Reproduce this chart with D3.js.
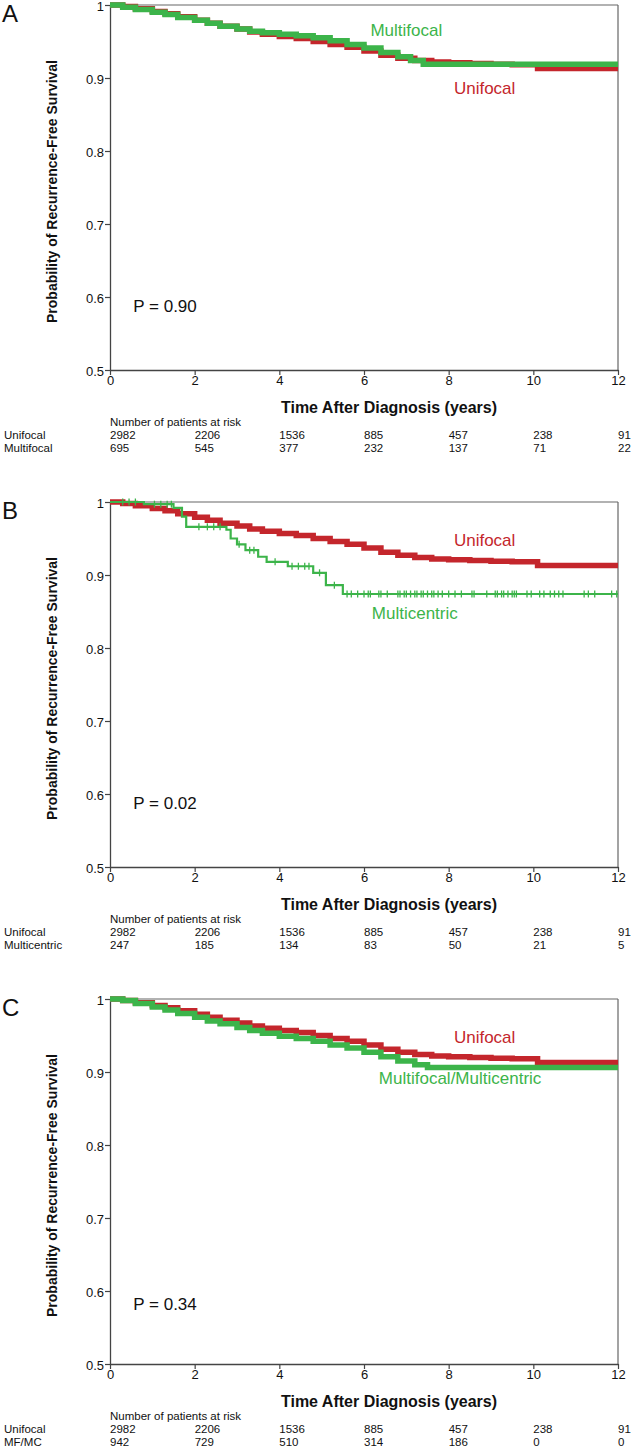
<!DOCTYPE html>
<html><head><meta charset="utf-8">
<script src="https://cdn.jsdelivr.net/npm/d3@7"></script>
<style>
html,body{margin:0;padding:0;background:#fff;}
svg{display:block;}
text{font-family:"Liberation Sans",Arial,sans-serif;}
</style></head>
<body>
<svg id="chart" width="636" height="1451"></svg>
<script>
// ---------------- DATA ----------------
const xTicks = [0, 2, 4, 6, 8, 10, 12];
const yTicks = [0.5, 0.6, 0.7, 0.8, 0.9, 1];
const yTickLabels = ["0.5", "0.6", "0.7", "0.8", "0.9", "1"];

// Unifocal (same group in every panel)
const unifocalTime = [0, 0.3, 0.6, 1.0, 1.3, 1.6, 2.0, 2.3, 2.6, 3.0, 3.3, 3.6, 4.0, 4.4, 4.8, 5.2, 5.6, 6.0, 6.4, 6.8, 7.2, 7.6, 8.0, 8.5, 9.0, 9.5, 10.1, 12];
const unifocalSurv = [1.0, 0.998, 0.995, 0.991, 0.988, 0.984, 0.979, 0.975, 0.971, 0.967, 0.963, 0.960, 0.957, 0.954, 0.950, 0.946, 0.942, 0.937, 0.931, 0.927, 0.924, 0.922, 0.921, 0.920, 0.919, 0.918, 0.913, 0.913];

// Panel A: Multifocal
const multifocalTime = [0, 0.3, 0.6, 1.0, 1.3, 1.6, 2.0, 2.3, 2.6, 3.0, 3.3, 3.6, 4.0, 4.4, 4.8, 5.2, 5.6, 6.0, 6.4, 6.8, 7.1, 7.4, 12];
const multifocalSurv = [1.0, 0.997, 0.994, 0.990, 0.987, 0.983, 0.979, 0.975, 0.971, 0.967, 0.964, 0.962, 0.960, 0.958, 0.955, 0.951, 0.946, 0.941, 0.935, 0.929, 0.924, 0.919, 0.919];

// Panel B: Multicentric
const multicentricTime = [0, 0.8, 1.5, 1.7, 1.8, 2.75, 2.85, 3.0, 3.2, 3.5, 3.7, 4.2, 4.8, 5.1, 5.5, 12];
const multicentricSurv = [1.0, 0.997, 0.992, 0.980, 0.966, 0.962, 0.950, 0.942, 0.934, 0.925, 0.918, 0.912, 0.903, 0.886, 0.874, 0.874];
const multicentricCensor = [0.3, 0.45, 0.6, 1.05, 1.2, 1.35, 1.45, 2.1, 2.3, 2.45, 2.6, 3.05, 3.3, 3.4, 3.9, 4.3, 4.45, 4.6, 4.7, 4.95, 5.3,
  5.6, 5.7, 5.85, 6.0, 6.1, 6.15, 6.35, 6.4, 6.55, 6.8, 6.85, 6.95, 7.0, 7.1, 7.2, 7.25, 7.35, 7.4, 7.5, 7.6, 7.65, 7.75, 7.85,
  8.0, 8.15, 8.3, 8.55, 8.6, 8.9, 9.1, 9.15, 9.25, 9.3, 9.4, 9.5, 9.55, 9.6, 9.85, 9.95, 10.15, 10.25, 10.4, 10.5, 10.6, 10.7,
  11.2, 11.3, 11.45, 11.85, 11.97];

// Panel C: Multifocal/Multicentric
const mfmcTime = [0, 0.3, 0.6, 1.0, 1.3, 1.6, 2.0, 2.3, 2.6, 3.0, 3.3, 3.6, 4.0, 4.4, 4.8, 5.2, 5.6, 6.0, 6.4, 6.8, 7.2, 7.5, 12];
const mfmcSurv = [1.0, 0.998, 0.994, 0.989, 0.985, 0.980, 0.975, 0.970, 0.966, 0.961, 0.957, 0.953, 0.949, 0.946, 0.942, 0.937, 0.933, 0.927, 0.921, 0.915, 0.910, 0.906, 0.906];

// Numbers at risk
const riskUnifocal = [2982, 2206, 1536, 885, 457, 238, 91];
const riskMultifocal = [695, 545, 377, 232, 137, 71, 22];
const riskMulticentric = [247, 185, 134, 83, 50, 21, 5];
const riskMFMC = [942, 729, 510, 314, 186, 0, 0];

const panelLetters = ["A", "B", "C"];
const pValues = ["P = 0.90", "P = 0.02", "P = 0.34"];
const groupNames = [["Unifocal", "Multifocal"], ["Unifocal", "Multicentric"], ["Unifocal", "MF/MC"]];
const curveLabels = [["Unifocal", "Multifocal"], ["Unifocal", "Multicentric"], ["Unifocal", "Multifocal/Multicentric"]];

// ---------------- DRAW ----------------
const RED = "#c4262c", GREEN = "#3cb44a";
const svg = d3.select("#chart");

const panels = [
  {top: 5, t2: multifocalTime, s2: multifocalSurv, thin2: false, censor2: [], r2: riskMultifocal,
   lab1: [8.85, 0.886], lab2: [7.0, 0.966], p: [0.55, 0.588]},
  {top: 502, t2: multicentricTime, s2: multicentricSurv, thin2: true, censor2: multicentricCensor, r2: riskMulticentric,
   lab1: [8.85, 0.948], lab2: [7.2, 0.848], p: [0.55, 0.588]},
  {top: 999, t2: mfmcTime, s2: mfmcSurv, thin2: false, censor2: [], r2: riskMFMC,
   lab1: [8.85, 0.948], lab2: [8.27, 0.892], p: [0.55, 0.582]}
];

function survAt(times, surv, t) {
  let v = surv[0];
  for (let i = 0; i < times.length; i++) { if (times[i] <= t) v = surv[i]; }
  return v;
}

panels.forEach((P, i) => {
  const left = 110, right = 618, top = P.top, bottom = P.top + 365;
  const x = d3.scaleLinear().domain([0, 12]).range([left, right]);
  const y = d3.scaleLinear().domain([0.5, 1]).range([bottom, top]);
  const g = svg.append("g");

  // frame (top and right)
  g.append("line").attr("x1", left).attr("x2", right).attr("y1", top).attr("y2", top).attr("stroke", "#666").attr("stroke-width", 1.2);
  g.append("line").attr("x1", right).attr("x2", right).attr("y1", top).attr("y2", bottom).attr("stroke", "#666").attr("stroke-width", 1.2);

  // axes
  const xAxis = d3.axisBottom(x).tickValues(xTicks).tickSize(5).tickSizeOuter(0).tickFormat(d3.format("d"));
  const gx = g.append("g").attr("transform", `translate(0,${bottom})`).call(xAxis);
  const yAxis = d3.axisLeft(y).tickValues(yTicks).tickSize(5).tickSizeOuter(0).tickFormat((d, k) => yTickLabels[k]);
  const gy = g.append("g").attr("transform", `translate(${left},0)`).call(yAxis);
  [gx, gy].forEach(a => {
    a.select(".domain").attr("stroke", "#444").attr("stroke-width", 1.3);
    a.selectAll(".tick line").attr("stroke", "#444").attr("stroke-width", 1.2);
    a.selectAll(".tick text").attr("fill", "#111").style("font-size", "13px").style("font-family", "'Liberation Sans',Arial,sans-serif");
  });
  gx.selectAll(".tick text").attr("dy", "0.71em").attr("y", 6);
  gy.selectAll(".tick text").attr("x", -6).attr("dy", "0.45em");

  // axis titles
  g.append("text").attr("x", 389).attr("y", bottom + 43).attr("text-anchor", "middle")
    .style("font-size", "16px").style("font-weight", "bold").attr("fill", "#111").text("Time After Diagnosis (years)");
  g.append("text").attr("transform", `translate(57,${(top + bottom) / 2 + 4}) rotate(-90)`).attr("text-anchor", "middle")
    .style("font-size", "14px").style("font-weight", "bold").attr("fill", "#111").text("Probability of Recurrence-Free Survival");

  // panel letter
  g.append("text").attr("x", 2).attr("y", top + 17).style("font-size", "24px").attr("fill", "#111").text(panelLetters[i]);

  // curves
  const line = d3.line().x(d => x(d[0])).y(d => y(d[1])).curve(d3.curveStepAfter);
  const d1 = unifocalTime.map((t, k) => [t, unifocalSurv[k]]);
  const d2 = P.t2.map((t, k) => [t, P.s2[k]]);
  g.append("path").attr("d", line(d1)).attr("fill", "none").attr("stroke", RED).attr("stroke-width", 5.5);
  g.append("path").attr("d", line(d2)).attr("fill", "none").attr("stroke", GREEN).attr("stroke-width", P.thin2 ? 2.2 : 5.5);
  g.selectAll(".cens").data(P.censor2).enter().append("line")
    .attr("x1", d => x(d)).attr("x2", d => x(d))
    .attr("y1", d => y(survAt(P.t2, P.s2, d)) - 3.5).attr("y2", d => y(survAt(P.t2, P.s2, d)) + 3.5)
    .attr("stroke", GREEN).attr("stroke-width", 1.3);

  // curve labels
  g.append("text").attr("x", x(P.lab1[0])).attr("y", y(P.lab1[1])).attr("dy", "0.35em").attr("text-anchor", "middle")
    .style("font-size", "17px").attr("fill", RED).text(curveLabels[i][0]);
  g.append("text").attr("x", x(P.lab2[0])).attr("y", y(P.lab2[1])).attr("dy", "0.35em").attr("text-anchor", "middle")
    .style("font-size", "17px").attr("fill", GREEN).text(curveLabels[i][1]);

  // p value
  g.append("text").attr("x", x(P.p[0])).attr("y", y(P.p[1])).attr("dy", "0.35em")
    .style("font-size", "17px").attr("fill", "#111").text(pValues[i]);

  // risk table
  const tf = "font-size:11.5px;";
  g.append("text").attr("x", left).attr("y", bottom + 56).attr("style", tf).attr("fill", "#111").text("Number of patients at risk");
  const rows = [riskUnifocal, P.r2];
  rows.forEach((r, ri) => {
    const yy = bottom + 69 + ri * 13;
    g.append("text").attr("x", 4).attr("y", yy).attr("style", tf).attr("fill", "#111").text(groupNames[i][ri]);
    g.selectAll(".rk" + ri).data(r).enter().append("text")
      .attr("x", (d, k) => x(xTicks[k])).attr("y", yy).attr("style", tf).attr("fill", "#111").text(d => d);
  });
});
</script>
</body></html>
